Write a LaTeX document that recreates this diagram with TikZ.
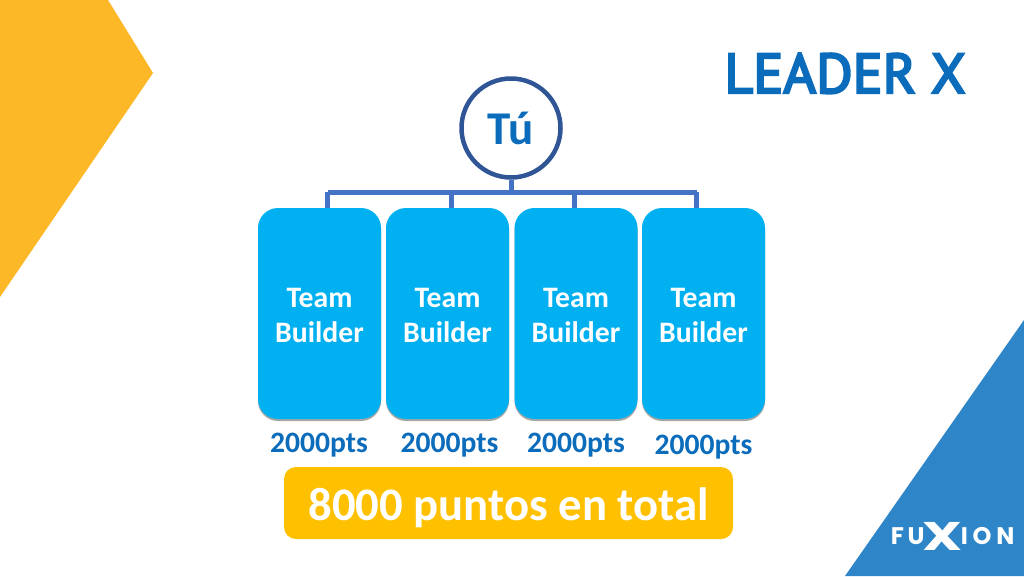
\documentclass[tikz,border=0pt]{standalone}
\usepackage{graphicx}
\usepackage{fontspec}
\setmainfont{Carlito}
\newfontfamily\titlefont[FakeBold=4]{PT Sans}
\newfontfamily\logofont{Poppins}
\usetikzlibrary{shadows}
\definecolor{cyanbox}{HTML}{00B0F0}
\definecolor{ambertot}{HTML}{FFC000}
\definecolor{cornerY}{HTML}{FDB827}
\definecolor{cornerB}{HTML}{2E86C8}
\definecolor{ringblue}{HTML}{2F5597}
\definecolor{busblue}{HTML}{4472C4}
\definecolor{textblue}{HTML}{0B6CBB}
\newcommand\tbtext{\begin{tabular}{@{}c@{}}\rule{0pt}{34pt}Team\\Builder\end{tabular}}
\tikzset{
  tbbox/.style={draw=none,fill=cyanbox,rounded corners=20pt,minimum width=123pt,minimum height=211pt,inner sep=0pt,
    drop shadow={shadow xshift=0pt,shadow yshift=-2pt,fill=black,opacity=.35},
    text=white,font=\bfseries\fontsize{29.7}{35.5}\selectfont},
  ptslabel/.style={text=textblue,font=\bfseries\fontsize{29.6}{30}\selectfont,inner sep=0pt,anchor=base},
  conn/.style={draw=busblue,line width=5pt},
  logoletter/.style={text=white,font=\logofont\bfseries\fontsize{24}{24}\selectfont,inner sep=0pt,anchor=base}
}
\begin{document}
\begin{tikzpicture}[x=1pt,y=-1pt]
\useasboundingbox (0,0) rectangle (1024,576);
\fill[white] (0,0) rectangle (1024,576);
\fill[cornerY] (0,0) -- (108,0) -- (153,73) -- (0,297) -- cycle;
\fill[cornerB] (1024,320) -- (1024,576) -- (845,576) -- cycle;
\node[text=textblue,font=\titlefont\fontsize{56}{56}\selectfont,inner sep=0pt,anchor=base] (title) at (845,93) {LEADER X};
\node[circle,draw=ringblue,line width=4.5pt,fill=white,minimum size=99pt,inner sep=0pt,text=textblue,font=\bfseries\fontsize{47}{47}\selectfont] (tu) at (511,128) {Tú};
\node[tbbox] (tb1) at (319.5,313.5) {\tbtext};
\node[tbbox] (tb2) at (447.5,313.5) {\tbtext};
\node[tbbox] (tb3) at (576,313.5) {\tbtext};
\node[tbbox] (tb4) at (703.5,313.5) {\tbtext};
\coordinate (bus1) at (327.5,192);
\coordinate (bus2) at (451,192);
\coordinate (bus3) at (574,192);
\coordinate (bus4) at (696.5,192);
\draw[conn] (tu.south) -- (tu.south |- bus1);
\draw[conn,line cap=square] (bus1) -- (bus4);
\draw[conn] (bus1) -- (bus1 |- tb1.north);
\draw[conn] (bus2) -- (bus2 |- tb2.north);
\draw[conn] (bus3) -- (bus3 |- tb3.north);
\draw[conn] (bus4) -- (bus4 |- tb4.north);
\node[ptslabel] (p1) at (319,452) {2000pts};
\node[ptslabel] (p2) at (449.5,452) {2000pts};
\node[ptslabel] (p3) at (576,452) {2000pts};
\node[ptslabel] (p4) at (703.5,454) {2000pts};
\node[fill=ambertot,rounded corners=12pt,minimum width=449pt,minimum height=72pt,inner sep=0pt,text=white,font=\bfseries\fontsize{46.7}{46.7}\selectfont,text depth=0pt,text height=34pt] (total) at (508.5,503) {8000 puntos en total};
\node[logoletter] (lf) at (897.5,544) {F};
\node[logoletter] (lu) at (916,544) {U};
\node[logoletter,font=\logofont\bfseries\fontsize{40}{40}\selectfont] (lx) at (942.5,550) {\scalebox{1.4}[1]{X}};
\node[logoletter] (li) at (964.5,544) {I};
\node[logoletter] (lo) at (982,544) {O};
\node[logoletter] (ln) at (1005.5,544) {N};
\end{tikzpicture}
\end{document}
